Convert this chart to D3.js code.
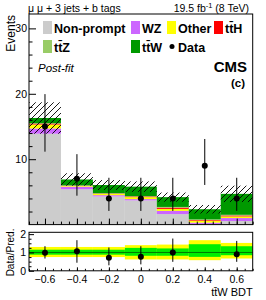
<!DOCTYPE html>
<html>
<head>
<meta charset="utf-8">
<script src="https://cdn.jsdelivr.net/npm/d3@7"></script>
<style>
  body { margin: 0; background: #fff; }
  svg { display: block; font-family: "Liberation Sans", Arial, sans-serif; }
</style>
</head>
<body>
<svg></svg>
<script>
// bins of the ttW BDT output
var binEdges = [-0.7, -0.5, -0.3, -0.1, 0.1, 0.3, 0.5, 0.7];
var xTicks = [-0.6, -0.4, -0.2, 0, 0.2, 0.4, 0.6];

// post-fit stack, bottom to top
var nonPrompt = [13.9, 5.4, 4.3, 3.7, 1.6, 0.1, 0.55];
var wz        = [0.8, 0.4, 0.2, 0.2, 0.5, 0.2, 0.45];
var other     = [0.6, 0.1, 0.2, 0.3, 0.3, 0.3, 0.25];
var ttH       = [0.15, 0.05, 0.05, 0.1, 0.2, 0.1, 0.15];
var ttZ       = [0.05, 0.05, 0.05, 0.05, 0.1, 0.1, 0.1];
var ttW       = [0.8, 0.9, 1.25, 1.45, 1.5, 1.55, 3.2];
var totalUnc  = [2.4, 0.95, 0.75, 0.8, 0.7, 0.65, 1.25];

// data with error bars
var data    = [15, 7, 4, 4, 4, 9, 4];
var dataLo  = [11.15, 4.42, 2.09, 2.09, 2.09, 6.06, 2.09];
var dataHi  = [19.95, 10.77, 7.16, 7.16, 7.16, 13.09, 7.16];

// ratio panel
var ratio    = [0.98, 1.07, 0.71, 0.76, 1.0, null, 0.9];
var ratioLo  = [0.67, 0.44, 0.3, 0.35, 0.49, null, 0.49];
var ratioHi  = [1.34, 1.67, 1.27, 1.34, 1.76, null, 1.63];
var yellowLo = [0.75, 0.75, 0.75, 0.62, 0.62, 0.58, 0.67];
var yellowHi = [1.3, 1.3, 1.3, 1.4, 1.43, 1.67, 1.52];
var greenLo  = [0.88, 0.88, 0.88, 0.82, 0.82, 0.76, 0.85];
var greenHi  = [1.15, 1.15, 1.15, 1.25, 1.22, 1.45, 1.34];

var mainTicks = [10, 20, 30];
var ratioTicks = [0, 1, 2];

var procs = [
  {name: 'Non-prompt', values: nonPrompt, color: '#cccccc'},
  {name: 'WZ', values: wz, color: '#cc66ff'},
  {name: 'Other', values: other, color: '#ffff00'},
  {name: 'tt\u0304H', values: ttH, color: '#ff0000'},
  {name: 'tt\u0304Z', values: ttZ, color: '#99cc66'},
  {name: 'tt\u0304W', values: ttW, color: '#009900'}
];

window.Chart = (function() {
  var W = 266, H = 300;
  var left = 29, right = 252.7;
  var mainTop = 14, mainBot = 224.6;
  var ratTop = 232.3, ratBot = 270.8;

  var x = d3.scaleLinear().domain([-0.7, 0.7]).range([left, right]);
  var y = d3.scaleLinear().domain([0, 32.2]).range([mainBot, mainTop]);
  var yr = d3.scaleLinear().domain([0, 2.1]).range([ratBot, ratTop]);

  var svg = d3.select('svg').attr('width', W).attr('height', H);

  var bins = d3.range(binEdges.length - 1).map(function(i) {
    return {i: i, x0: binEdges[i], x1: binEdges[i + 1], xc: (binEdges[i] + binEdges[i + 1]) / 2};
  });

  // hatch pattern
  var pat = svg.append('defs').append('pattern')
    .attr('id', 'hatch').attr('patternUnits', 'userSpaceOnUse')
    .attr('width', 6).attr('height', 6);
  pat.append('path').attr('d', 'M-1,1 l2,-2 M0,6 l6,-6 M5,7 l2,-2')
    .attr('stroke', '#000').attr('stroke-width', 0.9);

  var clipM = svg.append('clipPath').attr('id', 'clipMain');
  clipM.append('rect').attr('x', left).attr('y', mainTop)
    .attr('width', right - left).attr('height', mainBot - mainTop);
  var clipR = svg.append('clipPath').attr('id', 'clipRatio');
  clipR.append('rect').attr('x', left).attr('y', ratTop)
    .attr('width', right - left).attr('height', ratBot - ratTop);

  // ---- main panel ----
  var main = svg.append('g').attr('clip-path', 'url(#clipMain)');
  var base = bins.map(function() { return 0; });
  procs.forEach(function(p) {
    main.append('g').selectAll('rect').data(bins).enter().append('rect')
      .attr('x', function(d) { return x(d.x0); })
      .attr('width', function(d) { return x(d.x1) - x(d.x0); })
      .attr('y', function(d) { return y(base[d.i] + p.values[d.i]); })
      .attr('height', function(d) { return y(base[d.i]) - y(base[d.i] + p.values[d.i]); })
      .attr('fill', p.color)
      .each(function(d) { base[d.i] += p.values[d.i]; });
  });
  var total = base.slice();

  main.append('g').selectAll('rect').data(bins).enter().append('rect')
    .attr('x', function(d) { return x(d.x0); })
    .attr('width', function(d) { return x(d.x1) - x(d.x0); })
    .attr('y', function(d) { return y(total[d.i] + totalUnc[d.i]); })
    .attr('height', function(d) { return y(total[d.i] - totalUnc[d.i]) - y(total[d.i] + totalUnc[d.i]); })
    .attr('fill', 'url(#hatch)');

  var pts = main.append('g');
  pts.selectAll('line').data(bins).enter().append('line')
    .attr('x1', function(d) { return x(d.xc); }).attr('x2', function(d) { return x(d.xc); })
    .attr('y1', function(d) { return y(dataLo[d.i]); })
    .attr('y2', function(d) { return y(dataHi[d.i]); })
    .attr('stroke', '#000').attr('stroke-width', 1);
  pts.selectAll('circle').data(bins).enter().append('circle')
    .attr('cx', function(d) { return x(d.xc); })
    .attr('cy', function(d) { return y(data[d.i]); })
    .attr('r', 3).attr('fill', '#000');

  // ---- ratio panel ----
  var rat = svg.append('g').attr('clip-path', 'url(#clipRatio)');
  rat.append('g').selectAll('rect').data(bins).enter().append('rect')
    .attr('x', function(d) { return x(d.x0); })
    .attr('width', function(d) { return x(d.x1) - x(d.x0); })
    .attr('y', function(d) { return yr(yellowHi[d.i]); })
    .attr('height', function(d) { return yr(yellowLo[d.i]) - yr(yellowHi[d.i]); })
    .attr('fill', '#ffff00');
  rat.append('g').selectAll('rect').data(bins).enter().append('rect')
    .attr('x', function(d) { return x(d.x0); })
    .attr('width', function(d) { return x(d.x1) - x(d.x0); })
    .attr('y', function(d) { return yr(greenHi[d.i]); })
    .attr('height', function(d) { return yr(greenLo[d.i]) - yr(greenHi[d.i]); })
    .attr('fill', '#00ee00');
  rat.append('line')
    .attr('x1', left).attr('x2', right).attr('y1', yr(1)).attr('y2', yr(1))
    .attr('stroke', '#007700').attr('stroke-width', 1);

  var rbins = bins.filter(function(d) { return ratio[d.i] !== null; });
  rat.append('g').selectAll('line').data(rbins).enter().append('line')
    .attr('x1', function(d) { return x(d.xc); }).attr('x2', function(d) { return x(d.xc); })
    .attr('y1', function(d) { return yr(ratioLo[d.i]); })
    .attr('y2', function(d) { return yr(ratioHi[d.i]); })
    .attr('stroke', '#000').attr('stroke-width', 1);
  rat.append('g').selectAll('circle').data(rbins).enter().append('circle')
    .attr('cx', function(d) { return x(d.xc); })
    .attr('cy', function(d) { return yr(ratio[d.i]); })
    .attr('r', 3).attr('fill', '#000');

  // ---- axes (ROOT style: ticks inside) ----
  var yAxis = d3.axisRight(y).tickValues(mainTicks).tickSize(7).tickFormat('');
  svg.append('g').attr('transform', 'translate(' + left + ',0)').call(yAxis);
  var yMinor = d3.axisRight(y).tickValues(d3.range(2, 32, 2).filter(function(v) { return v % 10; }))
    .tickSize(3.5).tickFormat('');
  svg.append('g').attr('transform', 'translate(' + left + ',0)').call(yMinor);

  var xMinorVals = d3.range(-0.7, 0.701, 0.05).map(function(v) { return Math.round(v * 100) / 100; });
  [mainBot, ratBot].forEach(function(yy) {
    svg.append('g').attr('transform', 'translate(0,' + yy + ')')
      .call(d3.axisTop(x).tickValues(xTicks).tickSize(yy === mainBot ? 6 : 3.5).tickFormat(''));
    svg.append('g').attr('transform', 'translate(0,' + yy + ')')
      .call(d3.axisTop(x).tickValues(xMinorVals).tickSize(yy === mainBot ? 3 : 2).tickFormat(''));
  });

  svg.append('g').attr('transform', 'translate(' + left + ',0)')
    .call(d3.axisRight(yr).tickValues(ratioTicks).tickSize(5).tickFormat(''));
  svg.append('g').attr('transform', 'translate(' + left + ',0)')
    .call(d3.axisRight(yr).tickValues([0.25, 0.5, 0.75, 1.25, 1.5, 1.75]).tickSize(2.5).tickFormat(''));

  svg.selectAll('.domain').remove();
  svg.selectAll('.tick line').attr('stroke', '#000').attr('stroke-width', 1);

  // frames
  [[mainTop, mainBot], [ratTop, ratBot]].forEach(function(f) {
    svg.append('rect').attr('x', left).attr('y', f[0])
      .attr('width', right - left).attr('height', f[1] - f[0])
      .attr('fill', 'none').attr('stroke', '#000').attr('stroke-width', 1);
  });

  // tick labels
  svg.append('g').selectAll('text').data(mainTicks).enter().append('text')
    .attr('x', left - 2).attr('y', function(d) { return y(d) + 3.8; })
    .attr('text-anchor', 'end').attr('font-size', 10.5).text(function(d) { return d; });
  svg.append('g').selectAll('text').data(ratioTicks).enter().append('text')
    .attr('x', left - 3).attr('y', function(d) { return yr(d) + 3.8; })
    .attr('text-anchor', 'end').attr('font-size', 10.5).text(function(d) { return d; });
  svg.append('g').selectAll('text').data(xTicks).enter().append('text')
    .attr('x', function(d) { return x(d); }).attr('y', 283)
    .attr('text-anchor', 'middle').attr('font-size', 10.5)
    .text(function(d) { return d === 0 ? '0' : d3.format('.1f')(d).replace('-', '\u2212'); });

  // titles
  svg.append('text').attr('x', right).attr('y', 296).attr('text-anchor', 'end')
    .attr('font-size', 11).text('tt\u0304W BDT');
  svg.append('text').attr('transform', 'translate(15,15) rotate(-90)')
    .attr('text-anchor', 'end').attr('font-size', 12).text('Events');
  svg.append('text').attr('transform', 'translate(14,' + yr(1) + ') rotate(-90)')
    .attr('text-anchor', 'middle').attr('font-size', 10).text('Data/Pred.');

  svg.append('text').attr('x', 28).attr('y', 12).attr('font-size', 10.5)
    .text('\u03bc \u03bc + 3 jets + b tags');
  svg.append('text').attr('x', 249).attr('y', 12).attr('text-anchor', 'end').attr('font-size', 10.5)
    .html('19.5 fb<tspan dy="-4" font-size="7.5">-1</tspan><tspan dy="4"> (8 TeV)</tspan>');

  svg.append('text').attr('x', 38).attr('y', 72).attr('font-size', 11.5)
    .attr('font-style', 'italic').text('Post-fit');
  svg.append('text').attr('x', 247).attr('y', 72).attr('text-anchor', 'end')
    .attr('font-size', 15).attr('font-weight', 'bold').text('CMS');
  svg.append('text').attr('x', 245).attr('y', 87).attr('text-anchor', 'end')
    .attr('font-size', 11.5).attr('font-weight', 'bold').text('(c)');

  // legend
  var legend = [
    {p: procs[0], lx: 43, ly: 21},
    {p: procs[1], lx: 131, ly: 21},
    {p: procs[2], lx: 167, ly: 21},
    {p: procs[3], lx: 214, ly: 21},
    {p: procs[4], lx: 43, ly: 40},
    {p: procs[5], lx: 131, ly: 40},
    {p: null, lx: 167, ly: 40, name: 'Data'}
  ];
  var lg = svg.append('g').selectAll('g').data(legend).enter().append('g')
    .attr('transform', function(d) { return 'translate(' + d.lx + ',' + d.ly + ')'; });
  lg.filter(function(d) { return d.p; }).append('rect')
    .attr('width', 9).attr('height', 13)
    .attr('fill', function(d) { return d.p.color; });
  lg.filter(function(d) { return !d.p; }).append('circle')
    .attr('cx', 5).attr('cy', 6.5).attr('r', 2.5).attr('fill', '#000');
  lg.append('text').attr('x', 11).attr('y', 11.5)
    .attr('font-size', 12.5).attr('font-weight', 'bold')
    .text(function(d) { return d.p ? d.p.name : d.name; });

  return {x: x, y: y};
})();
</script>
</body>
</html>
